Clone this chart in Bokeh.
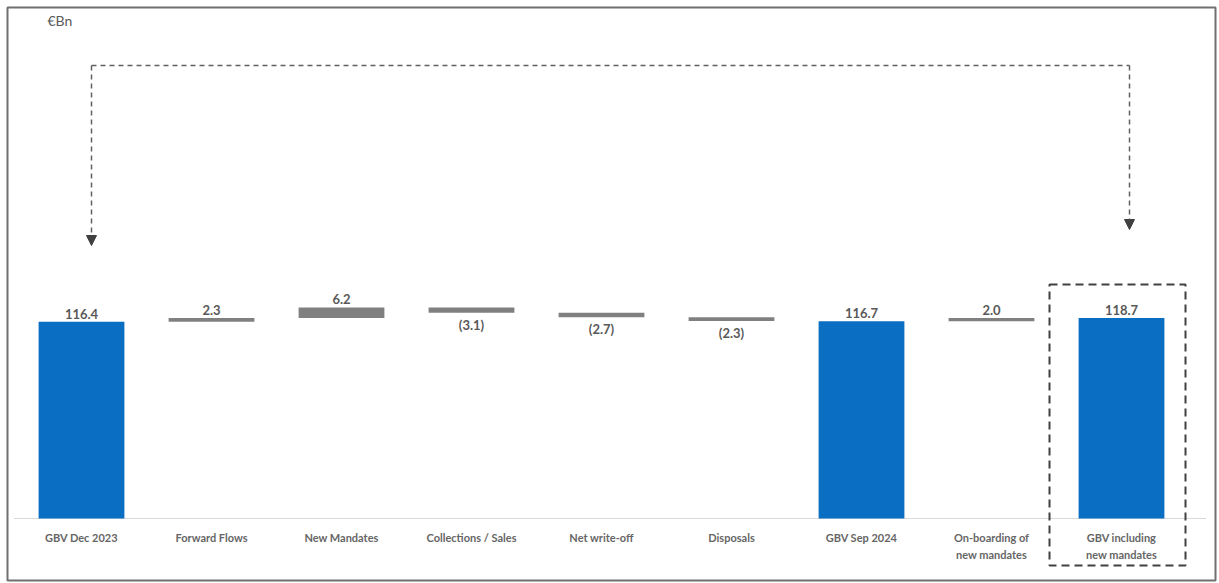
from bokeh.plotting import figure
from bokeh.models import ColumnDataSource, Range1d, BoxAnnotation, Arrow, NormalHead, Label
from bokeh.embed import file_html
from bokeh.resources import INLINE
from bokeh.core.properties import value

# ---- data ----
categories = ["GBV Dec 2023", "Forward Flows", "New Mandates", "Collections / Sales",
              "Net write-off", "Disposals", "GBV Sep 2024",
              "On-boarding of\nnew mandates", "GBV including\nnew mandates"]
values = [116.4, 2.3, 6.2, -3.1, -2.7, -2.3, 116.7, 2.0, 118.7]
kinds = ["total", "delta", "delta", "delta", "delta", "delta", "total", "delta", "total"]
unit_label = "€Bn"

BLUE = "#0A6FC2"
GREY = "#808080"
TXT = "#595959"

# ---- waterfall geometry from data ----
xs, bottoms, tops, colors, labels, lab_y, lab_base, lab_off = [], [], [], [], [], [], [], []
run = 0.0
for i, (v, k) in enumerate(zip(values, kinds)):
    xs.append(i)
    if k == "total":
        b, t = 0.0, v
        run = v
        colors.append(BLUE)
        labels.append(f"{v:.1f}")
        lab_y.append(t); lab_base.append("bottom"); lab_off.append(-3)
    else:
        b, t = run, run + v
        run = t
        colors.append(GREY)
        if v >= 0:
            labels.append(f"{v:.1f}")
            lab_y.append(max(b, t)); lab_base.append("bottom"); lab_off.append(-3)
        else:
            labels.append(f"({abs(v):.1f})")
            lab_y.append(min(b, t)); lab_base.append("top"); lab_off.append(4)
    bottoms.append(min(b, t)); tops.append(max(b, t))

bars = ColumnDataSource(dict(x=xs, bottom=bottoms, top=tops, color=colors))
labs = ColumnDataSource(dict(x=xs, y=lab_y, text=labels, base=lab_base, off=lab_off))
cats = ColumnDataSource(dict(x=xs, y=[0] * len(xs), text=categories))

# ---- figure ----
px_per_unit = 1.69
ymax = 511 / px_per_unit
ymin = ymax - 573 / px_per_unit
p = figure(width=1219, height=583, output_backend="svg", toolbar_location=None,
           x_axis_type=None, y_axis_type=None,
           x_range=Range1d(-74 / 130, -74 / 130 + 1208 / 130),
           y_range=Range1d(ymin, ymax),
           min_border_left=7, min_border_top=7, min_border_right=4, min_border_bottom=3)
p.grid.visible = False
p.outline_line_color = "#707070"
p.outline_line_width = 2
p.background_fill_color = "white"
p.border_fill_color = "white"

# baseline
p.segment(x0=[-0.52], y0=[0], x1=[len(categories) - 0.35], y1=[0],
          line_color="#D9D9D9", line_width=1)

p.vbar(x="x", bottom="bottom", top="top", width=0.66, fill_color="color",
       line_color=None, source=bars)

p.text(x="x", y="y", text="text", source=labs, text_align="center",
       text_baseline="base", y_offset="off", text_font=value("Lato"),
       text_font_style="bold", text_font_size="13px", text_color=TXT)

p.text(x="x", y="y", text="text", source=cats, text_align="center",
       text_baseline="top", y_offset=12, text_font=value("Lato"),
       text_font_style="bold", text_font_size="11px", text_color="#666666",
       text_line_height=1.35)

# unit label
p.add_layout(Label(x=40, y=583 - 7 - 7 - 17, x_units="screen", y_units="screen",
                   text=unit_label, text_font="Lato", text_font_size="14px",
                   text_color=TXT))

# dashed arrow connecting first and last bars
to_y = lambda py: (518 - py) / px_per_unit
xl = 0 + 10 / 130
xr = (len(categories) - 1) + 8 / 130
ytop = to_y(65)
p.segment(x0=[xl], y0=[ytop], x1=[xr], y1=[ytop], line_color="#606060",
          line_width=1.5, line_dash="5 4")
p.add_layout(Arrow(x_start=xl, y_start=ytop, x_end=xl, y_end=to_y(245),
                   line_color="#606060", line_width=1.5, line_dash="5 4",
                   end=NormalHead(size=10, fill_color="#404040", line_color="#404040")))
p.add_layout(Arrow(x_start=xr, y_start=ytop, x_end=xr, y_end=to_y(229),
                   line_color="#606060", line_width=1.5, line_dash="5 4",
                   end=NormalHead(size=10, fill_color="#404040", line_color="#404040")))

# dashed box around last category
last = len(categories) - 1
p.add_layout(BoxAnnotation(left=last - 72 / 130, right=last + 64 / 130,
                           bottom=to_y(565), top=to_y(284),
                           fill_alpha=0, line_color="#404040", line_alpha=1.0,
                           line_width=2, line_dash="8 5"))

open("out.html", "w").write(file_html(p, INLINE))
